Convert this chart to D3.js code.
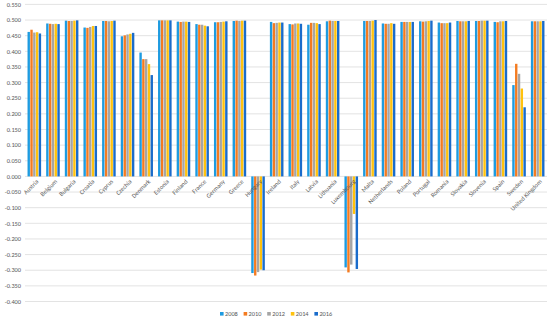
<!DOCTYPE html>
<html>
<head>
<meta charset="utf-8">
<script src="https://cdn.jsdelivr.net/npm/d3@7"></script>
<style>
  body { margin: 0; background: #fff; }
  svg { font-family: Calibri, Carlito, "Open Sans", sans-serif; }
</style>
</head>
<body>
<div id="my_dataviz"></div>
<script>
var countries = ["Austria", "Belgium", "Bulgaria", "Croatia", "Cyprus", "Czechia", "Denmark", "Estonia", "Finland", "France", "Germany", "Greece", "Hungary", "Ireland", "Italy", "Latvia", "Lithuania", "Luxembourg", "Malta", "Netherlands", "Poland", "Portugal", "Romania", "Slovakia", "Slovenia", "Spain", "Sweden", "United Kingdom"];
var years = ["2008", "2010", "2012", "2014", "2016"];
var year_colors = ["#1E9BE0", "#F47B20", "#A5A5A5", "#FFC20E", "#1A6CCB"];

var v2008 = [0.462, 0.489, 0.498, 0.476, 0.497, 0.448, 0.396, 0.499, 0.495, 0.487, 0.493, 0.497, -0.309, 0.494, 0.487, 0.485, 0.496, -0.291, 0.497, 0.489, 0.494, 0.496, 0.492, 0.497, 0.497, 0.494, 0.292, 0.496];
var v2010 = [0.469, 0.488, 0.497, 0.475, 0.497, 0.451, 0.375, 0.499, 0.494, 0.485, 0.493, 0.498, -0.317, 0.490, 0.486, 0.491, 0.498, -0.307, 0.497, 0.488, 0.494, 0.495, 0.490, 0.496, 0.497, 0.493, 0.360, 0.496];
var v2012 = [0.460, 0.487, 0.497, 0.478, 0.496, 0.454, 0.375, 0.499, 0.495, 0.485, 0.494, 0.497, -0.306, 0.491, 0.489, 0.491, 0.497, -0.282, 0.497, 0.488, 0.494, 0.496, 0.490, 0.496, 0.498, 0.496, 0.328, 0.496];
var v2014 = [0.461, 0.488, 0.498, 0.481, 0.497, 0.456, 0.359, 0.499, 0.495, 0.482, 0.495, 0.498, -0.298, 0.492, 0.489, 0.490, 0.497, -0.120, 0.498, 0.490, 0.494, 0.497, 0.490, 0.496, 0.498, 0.496, 0.281, 0.496];
var v2016 = [0.457, 0.487, 0.499, 0.481, 0.498, 0.459, 0.324, 0.499, 0.494, 0.480, 0.496, 0.498, -0.300, 0.492, 0.488, 0.487, 0.497, -0.296, 0.500, 0.488, 0.494, 0.498, 0.492, 0.497, 0.498, 0.497, 0.221, 0.497];
var y_ticks = [0.55, 0.5, 0.45, 0.4, 0.35, 0.3, 0.25, 0.2, 0.15, 0.1, 0.05, 0, -0.05, -0.1, -0.15, -0.2, -0.25, -0.3, -0.35, -0.4];

var series = [v2008, v2010, v2012, v2014, v2016];

var width = 550, height = 322;
var plotLeft = 25, plotRight = 547, plotTop = 4.4, plotBottom = 301.5;

var svg = d3.select("#my_dataviz")
  .append("svg")
  .attr("width", width)
  .attr("height", height);

var x = d3.scaleBand()
  .domain(countries)
  .range([plotLeft, plotRight])
  .paddingInner(0.25)
  .paddingOuter(0.125);

var x1 = d3.scaleBand()
  .domain(years)
  .range([0, x.bandwidth()])
  .padding(0.0);

var y = d3.scaleLinear()
  .domain([-0.4, 0.55])
  .range([plotBottom, plotTop]);

// gridlines
svg.append("g")
  .selectAll("line")
  .data(y_ticks).enter()
  .append("line")
  .attr("x1", plotLeft)
  .attr("x2", plotRight)
  .attr("y1", function(d) { return y(d); })
  .attr("y2", function(d) { return y(d); })
  .attr("stroke", "#d9d9d9")
  .attr("stroke-width", 0.75);

// y axis labels
svg.append("g")
  .selectAll("text")
  .data(y_ticks).enter()
  .append("text")
  .attr("x", 21)
  .attr("y", function(d) { return y(d); })
  .attr("dy", "0.35em")
  .attr("text-anchor", "end")
  .attr("font-size", 6.3)
  .attr("fill", "#595959")
  .text(function(d) { return d3.format(".3f")(d).replace("−", "-"); });

// bars
for (var s = 0; s < series.length; s++) {
  svg.append("g")
    .selectAll("rect")
    .data(series[s]).enter()
    .append("rect")
    .attr("x", function(d, i) { return x(countries[i]) + x1(years[s]) + 0.2; })
    .attr("width", x1.bandwidth() - 0.4)
    .attr("y", function(d) { return y(Math.max(0, d)); })
    .attr("height", function(d) { return Math.abs(y(d) - y(0)); })
    .attr("fill", year_colors[s]);
}

// category labels
svg.append("g")
  .selectAll("text")
  .data(countries).enter()
  .append("text")
  .attr("transform", function(d) {
    return "translate(" + (x(d) + x.bandwidth() / 2 + 3) + "," + (y(0) + 4) + ") rotate(-45)";
  })
  .attr("text-anchor", "end")
  .attr("dy", "0.35em")
  .attr("font-size", 6.3)
  .attr("fill", "#595959")
  .text(function(d) { return d; });

// legend
var legend = svg.append("g");
years.forEach(function(yr, i) {
  var lx = 220 + i * 23.6;
  legend.append("rect")
    .attr("x", lx)
    .attr("y", 312)
    .attr("width", 3.6)
    .attr("height", 3.6)
    .attr("fill", year_colors[i]);
  legend.append("text")
    .attr("x", lx + 5)
    .attr("y", 314)
    .attr("dy", "0.35em")
    .attr("font-size", 6.3)
    .attr("fill", "#595959")
    .text(yr);
});
</script>
</body>
</html>
